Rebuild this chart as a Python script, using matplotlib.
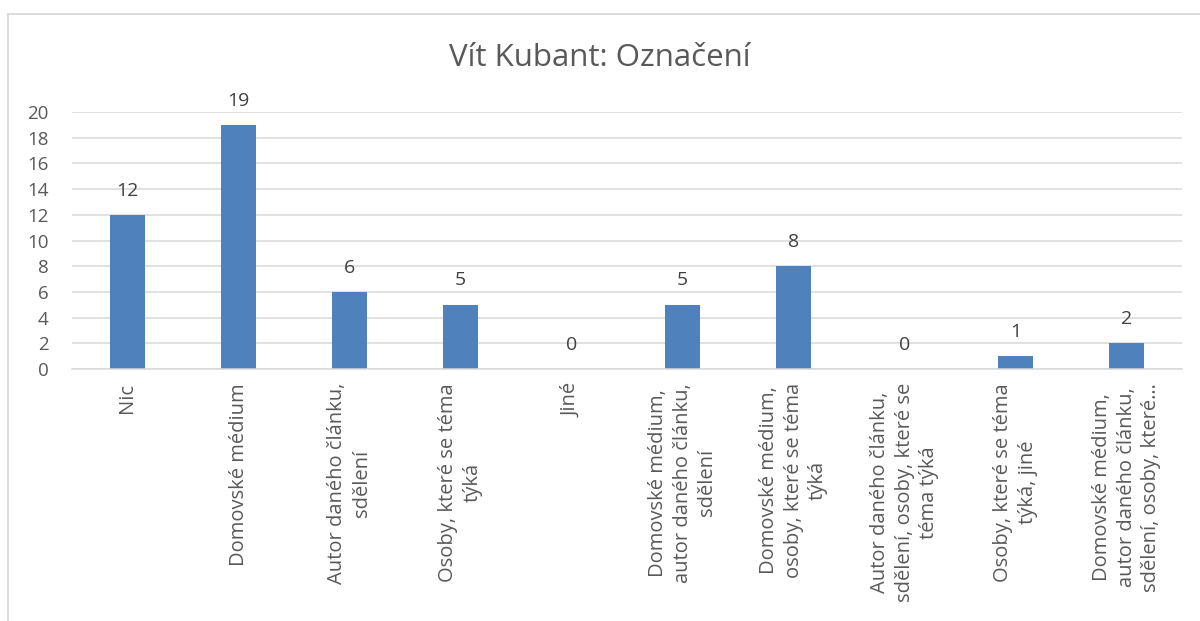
import matplotlib
matplotlib.use("Agg")
import matplotlib.pyplot as plt
from matplotlib.lines import Line2D

plt.rcParams["font.family"] = ["Open Sans", "DejaVu Sans"]

title = "Vít Kubant: Označení"
categories = [
    "Nic",
    "Domovské médium",
    "Autor daného článku,\nsdělení",
    "Osoby, které se téma\ntýká",
    "Jiné",
    "Domovské médium,\nautor daného článku,\nsdělení",
    "Domovské médium,\nosoby, které se téma\ntýká",
    "Autor daného článku,\nsdělení, osoby, které se\ntéma týká",
    "Osoby, které se téma\ntýká, jiné",
    "Domovské médium,\nautor daného článku,\nsdělení, osoby, které…",
]
counts = [12, 19, 6, 5, 0, 5, 8, 0, 1, 2]
yticks = list(range(0, 21, 2))

BAR = "#4f81bd"
GRID = "#d9d9d9"
TXT = "#595959"

fig = plt.figure(figsize=(12, 6.21), dpi=100)
ax = fig.add_axes([72 / 1200, 252 / 621, 1110 / 1200, 257 / 621])

x = list(range(len(categories)))
ax.bar(x, counts, width=0.31, color=BAR, zorder=3)
for xi, v in zip(x, counts):
    ax.annotate(str(v), (xi, v), xytext=(0, 11), textcoords="offset points",
                ha="center", va="bottom", fontsize=14, color="#404040")

ax.set_xlim(-0.5, len(categories) - 0.5)
ax.set_ylim(0, 20)
ax.set_yticks(yticks)
ax.set_xticks(x)
ax.set_xticklabels(categories, rotation=90, ha="center", va="top",
                   multialignment="center", linespacing=1.3, fontsize=14.5)
ax.tick_params(axis="both", length=0, labelcolor=TXT)
ax.tick_params(axis="y", pad=17, labelsize=13.5)
ax.tick_params(axis="x", pad=10)
ax.grid(axis="y", color=GRID, lw=1.1, zorder=0)
for s in ["top", "right", "left"]:
    ax.spines[s].set_visible(False)
ax.spines["bottom"].set_color(GRID)
ax.spines["bottom"].set_linewidth(1.1)
ax.spines["bottom"].set_zorder(4)

fig.text(0.5, 1 - 58 / 621, title, ha="center", va="center", fontsize=22.5, color=TXT)

# chart frame (cut off at right and bottom)
fig.add_artist(Line2D([7.5 / 1200, 1.0], [1 - 13.5 / 621] * 2, color=GRID, lw=1.3))
fig.add_artist(Line2D([7.5 / 1200] * 2, [0.0, 1 - 13.5 / 621], color=GRID, lw=1.3))

fig.savefig("out.png", dpi=100)
